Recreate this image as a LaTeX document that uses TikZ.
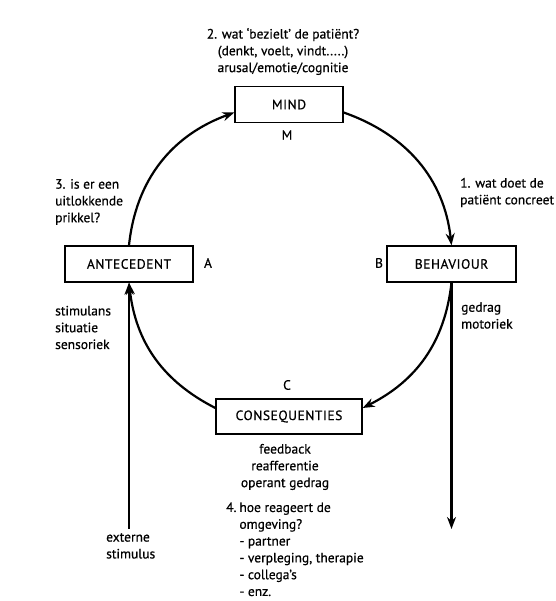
\documentclass[tikz,border=0pt]{standalone}
\usepackage{fontspec}
\setmainfont{PT Sans}[FakeBold=0.6]
\usepackage{tikz}
\usetikzlibrary{arrows.meta}

\tikzset{
  blok/.style={draw,line width=1.3pt,minimum height=36pt,inner sep=0pt,
    font=\fontsize{13.5}{15}\selectfont\addfontfeatures{LetterSpace=4}},
  pijl/.style={line width=2.2pt,-{Stealth[length=12pt,width=9pt]}},
  tekst/.style={inner sep=0pt,font=\fontsize{13.5}{16.8}\selectfont}
}

\begin{document}
\begin{tikzpicture}[x=1pt,y=1pt]
  \useasboundingbox (0,0) rectangle (555,601);

  % de vier blokken op de cirkel
  \node[blok,minimum width=108pt] (mind) at (289,496.5) {MIND};
  \node[blok,minimum width=128pt] (ante) at (129,337) {ANTECEDENT};
  \node[blok,minimum width=129pt] (behav) at (451.5,337) {BEHAVIOUR};
  \node[blok,minimum width=146pt,minimum height=35pt] (conseq) at (289,184.5) {CONSEQUENTIES};

  % letters bij de blokken
  \node[tekst] (m) at (287,466) {M};
  \node[tekst] (a) at (208,338) {A};
  \node[tekst] (b) at (379,338) {B};
  \node[tekst] (c) at (287,216) {C};

  % de cirkel
  \draw[pijl] (ante.north) to[out=84,in=200] ([yshift=-8pt]mind.west);
  \draw[pijl] ([yshift=-8pt]mind.east) to[out=-19.4,in=96.4] (behav.north);
  \draw[pijl] (behav.south) to[out=-96.4,in=26.7] ([yshift=8.5pt]conseq.east);
  \draw[pijl] ([yshift=8.5pt]conseq.west) to[out=153,in=-83.6] (ante.south);

  % vragen en toelichting
  \node[tekst,align=center] (vraag2) at (283,549.5)
    {2. wat ‘bezielt’ de patiënt?\\(denkt, voelt, vindt.....)\\arusal/emotie/cognitie};
  \node[tekst,align=left,anchor=west] (vraag3) at (55,399)
    {3. is er een\\uitlokkende\\prikkel?};
  \node[tekst,align=left,anchor=west] (vraag1) at (460,408.5)
    {1. wat doet de\\patiënt concreet};
  \node[tekst,align=left,anchor=west] (stim) at (55,273.5)
    {stimulans\\situatie\\sensoriek};
  \node[tekst,align=left,anchor=west] (gedrag) at (461,285.5)
    {gedrag\\motoriek};
  \node[tekst,align=center] (feedback) at (285,134)
    {feedback\\reafferentie\\operant gedrag};
  \node[tekst,anchor=north west] (vraag4) at (226,101)
    {\begin{tabular}{@{}l@{\hspace{3pt}}l@{}}
      4. & hoe reageert de\\
         & omgeving?\\
         & - partner\\
         & - verpleging, therapie\\
         & - collega’s\\
         & - enz.
    \end{tabular}};
  \node[tekst,align=left,anchor=north west] (extern) at (106,68)
    {externe\\stimulus};

  % ingaande en uitgaande lijn
  \coordinate (uit) at (451.5,72);
  \draw[pijl] ([yshift=4pt]ante.south |- extern.north) -- (ante.south);
  \draw[pijl] (behav.south) -- (uit);
\end{tikzpicture}
\end{document}
